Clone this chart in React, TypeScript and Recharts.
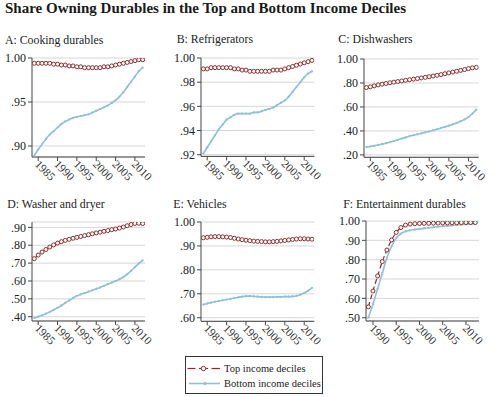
import React from "react";
import { LineChart, Line, XAxis, YAxis, CartesianGrid } from "recharts";

const years = [
  1984, 1985, 1986, 1987, 1988, 1989, 1990, 1991, 1992, 1993, 1994, 1995, 1996, 1997, 1998,
  1999, 2000, 2001, 2002, 2003, 2004, 2005, 2006, 2007, 2008, 2009, 2010, 2011, 2012,
];
const yearsEnt = [
  1989, 1990, 1991, 1992, 1993, 1994, 1995, 1996, 1997, 1998, 1999, 2000, 2001, 2002, 2003,
  2004, 2005, 2006, 2007, 2008, 2009, 2010, 2011, 2012,
];
const yearTicks = [1985, 1990, 1995, 2000, 2005, 2010];
const yearTicksEnt = [1990, 1995, 2000, 2005, 2010];

const cookingTop = [
  0.994, 0.994, 0.994, 0.994, 0.994, 0.993, 0.993, 0.992, 0.992, 0.991, 0.991, 0.99, 0.99, 0.989,
  0.989, 0.989, 0.989, 0.989, 0.99, 0.99, 0.991, 0.992, 0.993, 0.994, 0.995, 0.996, 0.997, 0.998,
  0.998,
];
const cookingBottom = [
  0.889, 0.896, 0.902, 0.908, 0.913, 0.917, 0.921, 0.925, 0.928, 0.93, 0.932, 0.933, 0.934, 0.935,
  0.936, 0.938, 0.94, 0.942, 0.944, 0.946, 0.949, 0.952, 0.956, 0.961, 0.967, 0.973, 0.979, 0.985,
  0.989,
];
const fridgeTop = [
  0.991, 0.991, 0.992, 0.992, 0.992, 0.992, 0.992, 0.992, 0.991, 0.991, 0.99, 0.99, 0.989, 0.989,
  0.989, 0.989, 0.989, 0.989, 0.99, 0.99, 0.99, 0.991, 0.992, 0.993, 0.994, 0.995, 0.996, 0.997,
  0.998,
];
const fridgeBottom = [
  0.921, 0.926, 0.931, 0.936, 0.941, 0.945, 0.949, 0.951, 0.953, 0.954, 0.954, 0.954, 0.954, 0.955,
  0.955, 0.956, 0.957, 0.958, 0.959, 0.961, 0.963, 0.965, 0.968, 0.972, 0.976, 0.98, 0.984, 0.987,
  0.989,
];
const dishTop = [
  0.762, 0.768, 0.776, 0.784, 0.79, 0.796, 0.802, 0.807, 0.812, 0.817, 0.822, 0.827, 0.832, 0.837,
  0.842, 0.847, 0.852, 0.858, 0.864, 0.87, 0.877, 0.884, 0.891, 0.898, 0.905, 0.912, 0.92, 0.926,
  0.93,
];
const dishBottom = [
  0.265, 0.27, 0.276, 0.283, 0.29, 0.298, 0.306, 0.316, 0.326, 0.336, 0.346, 0.356, 0.364, 0.372,
  0.38, 0.388, 0.396, 0.405, 0.414, 0.424, 0.434, 0.444, 0.455, 0.467, 0.48, 0.496, 0.516, 0.545,
  0.578,
];
const washerTop = [
  0.725, 0.745, 0.762, 0.776, 0.79, 0.802, 0.812, 0.82, 0.827, 0.833, 0.839, 0.844, 0.849, 0.854,
  0.859, 0.864, 0.869, 0.873, 0.878, 0.882, 0.887, 0.891, 0.896, 0.902, 0.909, 0.916, 0.922, 0.923,
  0.921,
];
const washerBottom = [
  0.393, 0.4, 0.408, 0.417, 0.427, 0.438, 0.45, 0.463, 0.477, 0.491, 0.505, 0.517, 0.525, 0.532,
  0.54, 0.548, 0.556, 0.564, 0.573, 0.582, 0.591, 0.6, 0.61, 0.622, 0.638, 0.657, 0.677, 0.698,
  0.715,
];
const vehicleTop = [
  0.934, 0.936, 0.938, 0.939, 0.939, 0.938, 0.937, 0.935, 0.932, 0.929, 0.926, 0.924, 0.922, 0.92,
  0.919, 0.918, 0.917, 0.917, 0.918, 0.919, 0.921, 0.923, 0.925, 0.927, 0.929, 0.93, 0.93, 0.929,
  0.928,
];
const vehicleBottom = [
  0.655, 0.659, 0.663, 0.667, 0.67, 0.673, 0.676, 0.679, 0.682, 0.685, 0.688, 0.69, 0.69, 0.689,
  0.688, 0.687, 0.686, 0.686, 0.686, 0.687, 0.687, 0.688, 0.688, 0.689, 0.691, 0.696, 0.703, 0.713,
  0.725,
];
const entTop = [
  0.556, 0.638, 0.716, 0.79, 0.85, 0.902, 0.941, 0.966, 0.979, 0.984, 0.986, 0.987, 0.988, 0.988,
  0.989, 0.989, 0.99, 0.99, 0.991, 0.991, 0.992, 0.992, 0.992, 0.992,
];
const entBottom = [
  0.5, 0.57, 0.65, 0.73, 0.81, 0.87, 0.912, 0.935, 0.946, 0.952, 0.956, 0.959, 0.962, 0.965, 0.968,
  0.97, 0.973, 0.975, 0.977, 0.979, 0.981, 0.983, 0.985, 0.986,
];

const TOP_COLOR = "#8b2c2c";
const BOTTOM_COLOR = "#8fc0d5";
const SERIF = '"Liberation Serif", "Times New Roman", Times, serif';

function buildRows(xs: number[], top: number[], bottom: number[]) {
  return xs.map((year, i) => ({ year, top: top[i], bottom: bottom[i] }));
}

function formatShare(v: number) {
  const s = v.toFixed(2);
  return v < 1 ? s.slice(1) : s;
}

function YearTick(props: any) {
  const { x, y, payload } = props;
  const px = x - 4;
  const py = y + 4;
  return (
    <text
      x={px}
      y={py}
      transform={`rotate(45 ${px} ${py})`}
      fontSize={11.5}
      fontFamily={SERIF}
      fill="#333"
      textAnchor="start"
    >
      {payload.value}
    </text>
  );
}

interface PanelProps {
  rows: Array<Record<string, number>>;
  left: number;
  right: number;
  top: number;
  bottom: number;
  xDomain: [number, number];
  xTicks: number[];
  yDomain: [number, number];
  yTicks: number[];
}

function Panel({ rows, left, right, top, bottom, xDomain, xTicks, yDomain, yTicks }: PanelProps) {
  const yAxisW = 30;
  const mTop = 8;
  const mRight = 8;
  const xAxisH = 30;
  const w = yAxisW + (right - left) + mRight;
  const h = mTop + (bottom - top) + xAxisH;
  return (
    <div style={{ position: "absolute", left: left - yAxisW, top: top - mTop }}>
      <LineChart width={w} height={h} data={rows} margin={{ top: mTop, right: mRight, left: 0, bottom: 0 }}>
        <CartesianGrid vertical={false} stroke="#d6d6d6" />
        <XAxis
          type="number"
          dataKey="year"
          domain={xDomain}
          ticks={xTicks}
          interval={0}
          allowDataOverflow
          height={xAxisH}
          tickSize={4}
          tickMargin={0}
          tick={<YearTick />}
          axisLine={{ stroke: "#444" }}
          tickLine={{ stroke: "#444" }}
        />
        <YAxis
          type="number"
          domain={yDomain}
          ticks={yTicks}
          interval={0}
          allowDataOverflow
          width={yAxisW}
          tickSize={4}
          tickMargin={2}
          tickFormatter={formatShare}
          tick={{ fontSize: 12, fill: "#222", fontFamily: SERIF }}
          axisLine={{ stroke: "#444" }}
          tickLine={{ stroke: "#444" }}
        />
        <Line
          type="monotone"
          dataKey="bottom"
          stroke={BOTTOM_COLOR}
          strokeWidth={1.6}
          dot={{ r: 1.1, fill: BOTTOM_COLOR, stroke: "none" }}
          isAnimationActive={false}
        />
        <Line
          type="monotone"
          dataKey="top"
          stroke={TOP_COLOR}
          strokeWidth={1.2}
          strokeDasharray="5 3"
          dot={{ r: 2, fill: "#fff", stroke: TOP_COLOR, strokeWidth: 1, strokeDasharray: "" }}
          isAnimationActive={false}
        />
      </LineChart>
    </div>
  );
}

const mainX: [number, number] = [1983.4, 2012.6];
const entX: [number, number] = [1988.5, 2012.8];

export default function App() {
  return (
    <div
      style={{
        position: "absolute",
        left: 0,
        top: 0,
        width: 497,
        height: 397,
        background: "#fff",
        overflow: "hidden",
      }}
    >
      <Panel
        rows={buildRows(years, cookingTop, cookingBottom)}
        left={32}
        right={145}
        top={58}
        bottom={157}
        xDomain={mainX}
        xTicks={yearTicks}
        yDomain={[0.8875, 1.0]}
        yTicks={[0.9, 0.95, 1.0]}
      />
      <Panel
        rows={buildRows(years, fridgeTop, fridgeBottom)}
        left={200.7}
        right={314}
        top={58.3}
        bottom={156.7}
        xDomain={mainX}
        xTicks={yearTicks}
        yDomain={[0.9186, 1.0]}
        yTicks={[0.92, 0.94, 0.96, 0.98, 1.0]}
      />
      <Panel
        rows={buildRows(years, dishTop, dishBottom)}
        left={364.3}
        right={479}
        top={59}
        bottom={157.3}
        xDomain={mainX}
        xTicks={yearTicks}
        yDomain={[0.18, 1.0]}
        yTicks={[0.2, 0.4, 0.6, 0.8, 1.0]}
      />
      <Panel
        rows={buildRows(years, washerTop, washerBottom)}
        left={32}
        right={145}
        top={222}
        bottom={321}
        xDomain={mainX}
        xTicks={yearTicks}
        yDomain={[0.376, 0.93]}
        yTicks={[0.4, 0.5, 0.6, 0.7, 0.8, 0.9]}
      />
      <Panel
        rows={buildRows(years, vehicleTop, vehicleBottom)}
        left={200.7}
        right={314}
        top={221.7}
        bottom={321}
        xDomain={mainX}
        xTicks={yearTicks}
        yDomain={[0.585, 1.0]}
        yTicks={[0.6, 0.7, 0.8, 0.9, 1.0]}
      />
      <Panel
        rows={buildRows(yearsEnt, entTop, entBottom)}
        left={366}
        right={479}
        top={221}
        bottom={321}
        xDomain={entX}
        xTicks={yearTicksEnt}
        yDomain={[0.483, 1.0]}
        yTicks={[0.5, 0.6, 0.7, 0.8, 0.9, 1.0]}
      />

      <svg
        width={497}
        height={397}
        style={{ position: "absolute", left: 0, top: 0, pointerEvents: "none" }}
        fontFamily={SERIF}
      >
        <text x={5} y={13} fontSize={15} fontWeight="bold" fill="#1a1a1a">
          Share Owning Durables in the Top and Bottom Income Deciles
        </text>
        <text x={5} y={44} fontSize={11.8} fill="#222">A: Cooking durables</text>
        <text x={176.7} y={43} fontSize={11.8} fill="#222">B: Refrigerators</text>
        <text x={338.3} y={43} fontSize={11.8} fill="#222">C: Dishwashers</text>
        <text x={7.3} y={208} fontSize={11.8} fill="#222">D: Washer and dryer</text>
        <text x={173.3} y={208} fontSize={11.8} fill="#222">E: Vehicles</text>
        <text x={343.3} y={208} fontSize={11.8} fill="#222">F: Entertainment durables</text>

        <rect x={185.5} y={356.5} width={137} height={37} fill="#fff" stroke="#333" strokeWidth={1} />
        <line x1={187.5} y1={368.5} x2={195.5} y2={368.5} stroke={TOP_COLOR} strokeWidth={1.2} />
        <line x1={211.5} y1={368.5} x2={220} y2={368.5} stroke={TOP_COLOR} strokeWidth={1.2} />
        <line x1={199} y1={368.5} x2={208} y2={368.5} stroke={TOP_COLOR} strokeWidth={1.2} />
        <circle cx={203.5} cy={368.5} r={2.2} fill="#fff" stroke={TOP_COLOR} strokeWidth={1} />
        <text x={224} y={372} fontSize={10.5} fill="#222">Top income deciles</text>
        <line x1={189} y1={383.5} x2={220} y2={383.5} stroke={BOTTOM_COLOR} strokeWidth={1.6} />
        <circle cx={205} cy={383.5} r={1.6} fill={BOTTOM_COLOR} />
        <text x={224} y={387} fontSize={10.5} fill="#222">Bottom income deciles</text>
      </svg>
    </div>
  );
}
